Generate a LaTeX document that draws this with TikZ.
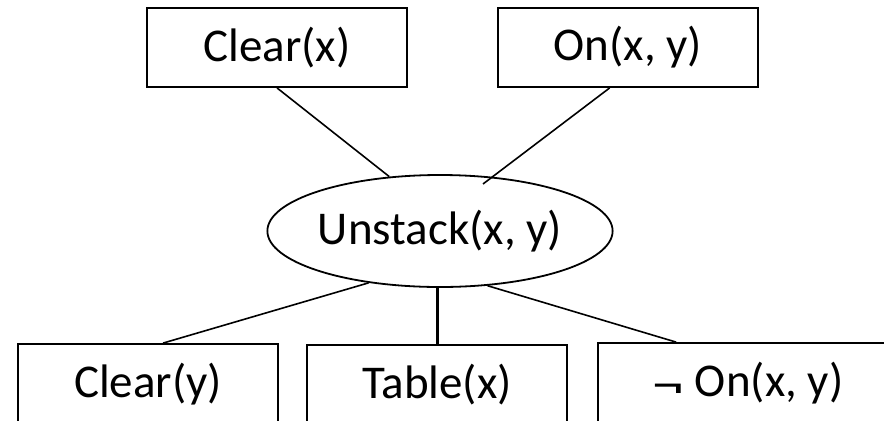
\documentclass[tikz,border=0pt]{standalone}
\usepackage{fontspec}
\usepackage{graphicx}
\setmainfont{Carlito}
\usetikzlibrary{shapes.geometric,calc}
% a wider, lower negation sign
\newcommand{\negsign}{\raisebox{-4bp}{\scalebox{1.35}[1]{¬}}}
\begin{document}
\begin{tikzpicture}[x=1bp,y=-1bp,
  every node/.style={font=\fontsize{47bp}{56bp}\selectfont, inner sep=0pt},
  goalbox/.style={draw, line width=1.8bp, rectangle, minimum width=260bp, minimum height=79bp},
  actnode/.style={draw, line width=1.8bp, ellipse, minimum width=320bp, minimum height=112bp},
  link/.style={line width=1.6bp},
  mainlink/.style={line width=3bp}]
  \useasboundingbox (0,0) rectangle (884,420);
  \clip (0,0) rectangle (884,420);
  % preconditions
  \node[goalbox] (cx) at (277,47.5) {Clear(x)};
  \node[goalbox] (on) at (628,47.5) {On(x, y)};
  % action
  \node[actnode] (un) at (440,231) {Unstack(x, y)};
  % effects
  \node[goalbox, minimum height=80bp] (cy) at (148,384) {Clear(y)};
  \node[goalbox, minimum height=80bp] (tb) at (437,385) {Table(x)};
  \node[goalbox, minimum height=80bp, minimum width=300bp] (ng) at (748,383) {\negsign\ On(x, y)};
  % connectors
  \draw[link] (cx.south) -- (un.133.4);
  \draw[link] ($(on.south west)!0.43!(on.south east)$) -- ($(un.center)+(43,-47)$);
  \draw[link] (un.216.9) -- ($(cy.north)+(15,0)$);
  \draw[mainlink] (tb.north) -- (tb.north |- un.south);
  \draw[link] (un.311.3) -- ($(ng.north west)+(79,0)$);
\end{tikzpicture}
\end{document}
